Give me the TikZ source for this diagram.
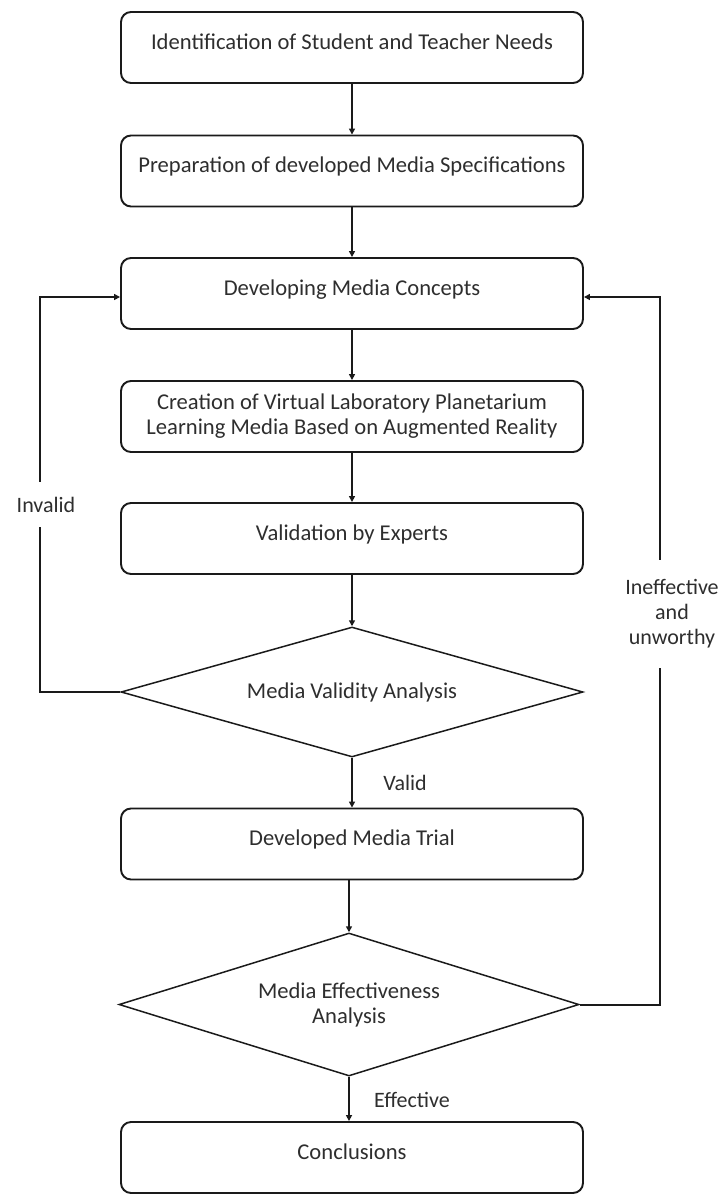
\documentclass[tikz,border=0pt]{standalone}
\usepackage{fontspec}
\setmainfont{Carlito}
\usetikzlibrary{shapes.geometric,arrows.meta}
\definecolor{txtc}{HTML}{2E2E2E}
\definecolor{linec}{HTML}{1A1A1A}
\tikzset{
  box/.style={draw=linec, line width=1.9pt, rounded corners=10pt, minimum width=462pt, minimum height=71pt, inner sep=0pt, text=txtc, font=\fontsize{22.6}{25}\selectfont},
  oneline/.style={text height=14pt, text depth=10.4pt},
  decision/.style={diamond, shape aspect=3.5, draw=linec, line width=1.5pt, inner sep=0pt, text=txtc, align=center, font=\fontsize{22.6}{25}\selectfont},
  arr/.style={draw=linec, line width=2pt, -{Triangle[length=6pt,width=6pt]}},
  lbl/.style={text=txtc, font=\fontsize{22}{25}\selectfont, align=center, inner sep=0pt}
}
\begin{document}
\begin{tikzpicture}[x=1pt,y=-1pt]
\useasboundingbox (0,0) rectangle (720,1194);
\node[box,oneline] (b1) at (352,47.5) {Identification of Student and Teacher Needs};
\node[box,oneline] (b2) at (352,171) {Preparation of developed Media Specifications};
\node[box,oneline] (b3) at (352,293.5) {Developing Media Concepts};
\node[box,align=center] (b4) at (352,416.5) {Creation of Virtual Laboratory Planetarium\\Learning Media Based on Augmented Reality};
\node[box,oneline] (b5) at (352,538.5) {Validation by Experts};
\node[decision, minimum width=462pt, minimum height=130pt] (d1) at (352,692) {Media Validity Analysis};
\node[box,oneline] (b6) at (352,844) {Developed Media Trial};
\node[decision, minimum width=460pt, minimum height=143pt] (d2) at (349,1004.5) {Media Effectiveness\\Analysis};
\node[box,oneline] (b7) at (352,1157.5) {Conclusions};

\draw[arr] (b1) -- (b2);
\draw[arr] (b2) -- (b3);
\draw[arr] (b3) -- (b4);
\draw[arr] (b4) -- (b5);
\draw[arr] (b5) -- (d1);
\draw[arr] (d1) -- (b6);
\draw[arr] (d2.north |- b6.south) -- (d2.north);
\draw[arr] (d2.south) -- (d2.south |- b7.north);

\coordinate (lx) at (40,692);
\coordinate (rx) at (660,1004.5);
\draw[arr] (d1.west) -- (lx) |- ([yshift=-3.5pt]b3.west);
\draw[arr] (d2.east) -- (rx) |- ([yshift=-3.5pt]b3.east);

\node[lbl, fill=white, minimum height=45pt, inner xsep=2pt] (linv) at (46,504.5) {Invalid};
\node[lbl, fill=white, minimum height=108pt] (lineff) at (672,614) {Ineffective\\and\\unworthy};
\node[lbl] (lval) at (405,783) {Valid};
\node[lbl] (leff) at (412,1100) {Effective};
\end{tikzpicture}
\end{document}
